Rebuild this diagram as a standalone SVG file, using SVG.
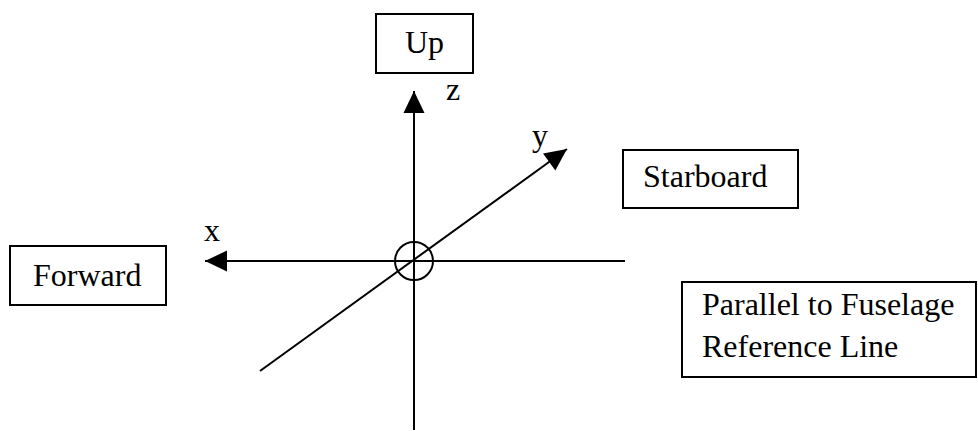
<svg xmlns="http://www.w3.org/2000/svg" width="978" height="431" viewBox="0 0 978 431">
<style>
.box{fill:#fff;stroke:#000;stroke-width:2}
.t{font-family:"Liberation Serif","Times New Roman",serif;font-size:32px;fill:#000}
.ax{stroke:#000;stroke-width:2;fill:none}
</style>
<defs>
<marker id="ah" markerUnits="userSpaceOnUse" markerWidth="24" markerHeight="24" viewBox="0 -12 23 24" refX="22" refY="0" orient="auto">
<path d="M0,-10.5 L22,0 L0,10.5 z" fill="#000"/>
</marker>
</defs>
<rect width="978" height="431" fill="#fff"/>
<g id="connectors">
<line class="ax" x1="414" y1="430" x2="414" y2="91" marker-end="url(#ah)"/>
<line class="ax" x1="625" y1="261" x2="205" y2="261" marker-end="url(#ah)"/>
<line class="ax" x1="260" y1="371" x2="567" y2="149" marker-end="url(#ah)"/>
<circle class="ax" cx="414" cy="261" r="19"/>
<text class="t" x="204" y="241">x</text>
<text class="t" x="532" y="146">y</text>
<text class="t" x="446" y="100">z</text>
</g>
<g id="up">
<rect class="box" x="376" y="14" width="97" height="59"/>
<text class="t" x="424.5" y="53" text-anchor="middle">Up</text>
</g>
<g id="forward">
<rect class="box" x="10" y="246" width="156" height="59"/>
<text class="t" x="33" y="286">Forward</text>
</g>
<g id="starboard">
<rect class="box" x="623" y="150" width="175" height="58"/>
<text class="t" x="643" y="187">Starboard</text>
</g>
<g id="fuselage">
<rect class="box" x="682" y="282" width="294" height="95"/>
<text class="t" x="702" y="315">Parallel to Fuselage</text>
<text class="t" x="702" y="357">Reference Line</text>
</g>
</svg>
